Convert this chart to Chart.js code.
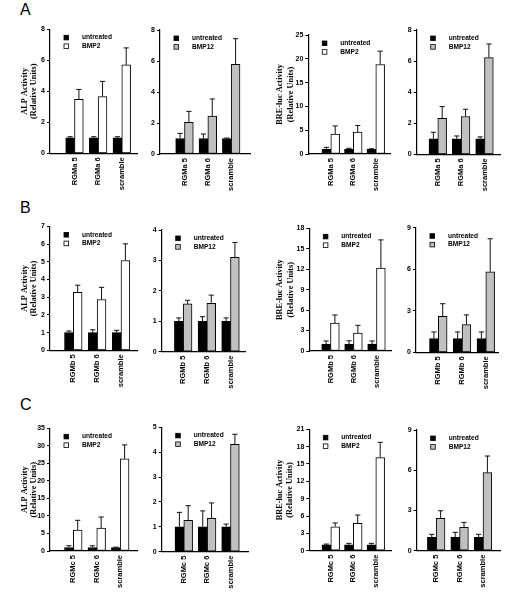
<!DOCTYPE html>
<html><head><meta charset="utf-8">
<script src="https://cdn.jsdelivr.net/npm/chart.js@4.4.1/dist/chart.umd.min.js"></script>
<style>
html,body{margin:0;padding:0;background:#fff;}
body{width:513px;height:605px;position:relative;overflow:hidden;}
canvas{position:absolute;}
.lab{position:absolute;font-family:"Liberation Sans",Arial,sans-serif;font-size:16px;line-height:1;color:#000;}
</style></head><body>
<div class="lab" style="left:20px;top:2px">A</div>
<div class="lab" style="left:20px;top:200px">B</div>
<div class="lab" style="left:20px;top:397px">C</div>
<script>
// ---- categories ----
const catsA = ['RGMa 5', 'RGMa 6', 'scramble'];
const catsB = ['RGMb 5', 'RGMb 6', 'scramble'];
const catsC = ['RGMc 5', 'RGMc 6', 'scramble'];
const seriesUntreated = 'untreated';
const seriesBMP2 = 'BMP2';
const seriesBMP12 = 'BMP12';
const titleALP = ['ALP Activity', '(Relative Units)'];
const titleBRE = ['BRE-luc Activity', '(Relative Units)'];

// ---- y tick labels ----
const a1YTicks = [0, 2, 4, 6, 8];
const a2YTicks = [0, 2, 4, 6, 8];
const a3YTicks = [0, 5, 10, 15, 20, 25];
const a4YTicks = [0, 2, 4, 6, 8];
const b1YTicks = [0, 1, 2, 3, 4, 5, 6, 7];
const b2YTicks = [0, 1, 2, 3, 4];
const b3YTicks = [0, 3, 6, 9, 12, 15, 18];
const b4YTicks = [0, 3, 6, 9];
const c1YTicks = [0, 5, 10, 15, 20, 25, 30, 35];
const c2YTicks = [0, 1, 2, 3, 4, 5];
const c3YTicks = [0, 3, 6, 9, 12, 15, 18, 21];
const c4YTicks = [0, 3, 6, 9];

// ---- series values (mean) and errors (SD, upward) ----
// A: RGMa
const a1Untreated = [1, 1, 1];          const a1UntreatedErr = [0.07, 0.07, 0.07];
const a1BMP2 = [3.48, 3.66, 5.7];        const a1BMP2Err = [0.64, 0.98, 1.1];
const a2Untreated = [1, 1, 1];          const a2UntreatedErr = [0.33, 0.29, 0.03];
const a2BMP12 = [2.04, 2.45, 5.78];      const a2BMP12Err = [0.71, 1.1, 1.66];
const a3Untreated = [1, 1, 1];          const a3UntreatedErr = [0.4, 0.2, 0.1];
const a3BMP2 = [4.2, 4.6, 18.8];         const a3BMP2Err = [1.7, 1.4, 2.8];
const a4Untreated = [1, 1, 1];          const a4UntreatedErr = [0.42, 0.18, 0.12];
const a4BMP12 = [2.32, 2.43, 6.22];      const a4BMP12Err = [0.75, 0.47, 0.88];
// B: RGMb
const b1Untreated = [1, 1, 1];          const b1UntreatedErr = [0.09, 0.16, 0.13];
const b1BMP2 = [3.28, 2.87, 5.08];       const b1BMP2Err = [0.4, 0.69, 0.94];
const b2Untreated = [1, 1, 1];          const b2UntreatedErr = [0.11, 0.15, 0.11];
const b2BMP12 = [1.57, 1.59, 3.1];       const b2BMP12Err = [0.12, 0.27, 0.49];
const b3Untreated = [1, 1, 1];          const b3UntreatedErr = [0.47, 0.5, 0.47];
const b3BMP2 = [4.1, 2.64, 12.18];       const b3BMP2Err = [1.18, 1.13, 4.12];
const b4Untreated = [1, 1, 1];          const b4UntreatedErr = [0.47, 0.47, 0.47];
const b4BMP12 = [2.6, 2.0, 5.82];        const b4BMP12Err = [0.91, 0.7, 2.38];
// C: RGMc
const c1Untreated = [1, 1, 1];          const c1UntreatedErr = [0.5, 0.5, 0.1];
const c1BMP2 = [6.0, 6.56, 26.26];       const c1BMP2Err = [2.75, 3.14, 4.0];
const c2Untreated = [1, 1, 1];          const c2UntreatedErr = [0.58, 0.64, 0.11];
const c2BMP12 = [1.26, 1.34, 4.32];      const c2BMP12Err = [0.59, 0.62, 0.4];
const c3Untreated = [1, 1, 1];          const c3UntreatedErr = [0.15, 0.27, 0.27];
const c3BMP2 = [4.15, 4.73, 16.1];       const c3BMP2Err = [0.65, 1.44, 2.65];
const c4Untreated = [1, 1, 1];          const c4UntreatedErr = [0.22, 0.37, 0.22];
const c4BMP12 = [2.41, 1.74, 5.82];      const c4BMP12Err = [0.57, 0.37, 1.24];

// ---- styles ----
const COL_UNTR = '#000000';
const COL_BMP2 = '#ffffff';
const COL_BMP12 = '#c0c0c0';
const TICK_FONT = {family: '"Liberation Sans", Arial, sans-serif', size: 7, weight: 'bold'};
const XTICK_FONT = {family: '"Liberation Sans", Arial, sans-serif', size: 7.5, weight: 'bold'};

// ---- panel layout (page pixels): plot box [left, top, right, bottom], first/last group centres ----
const panels = [
  {cats: catsA, u: a1Untreated, ue: a1UntreatedErr, t: a1BMP2, te: a1BMP2Err, tl: seriesBMP2, tc: COL_BMP2, yt: a1YTicks, title: titleALP, tx: 25, tlh: 8.5, box: [50, 29.3, 137, 153.3], c: [74.5, 121.8]},
  {cats: catsA, u: a2Untreated, ue: a2UntreatedErr, t: a2BMP12, te: a2BMP12Err, tl: seriesBMP12, tc: COL_BMP12, yt: a2YTicks, box: [160, 30, 250, 154], c: [184.5, 231.2]},
  {cats: catsA, u: a3Untreated, ue: a3UntreatedErr, t: a3BMP2, te: a3BMP2Err, tl: seriesBMP2, tc: COL_BMP2, yt: a3YTicks, title: titleBRE, tx: 280, tlh: 10.5, box: [308.3, 35, 390, 154], c: [330.8, 375.8]},
  {cats: catsA, u: a4Untreated, ue: a4UntreatedErr, t: a4BMP12, te: a4BMP12Err, tl: seriesBMP12, tc: COL_BMP12, yt: a4YTicks, box: [416.7, 30, 500, 154.3], c: [437.8, 484.5]},
  {cats: catsB, u: b1Untreated, ue: b1UntreatedErr, t: b1BMP2, te: b1BMP2Err, tl: seriesBMP2, tc: COL_BMP2, yt: b1YTicks, title: titleALP, tx: 25, tlh: 8.5, box: [50, 226.5, 137, 350.3], c: [73.3, 121]},
  {cats: catsB, u: b2Untreated, ue: b2UntreatedErr, t: b2BMP12, te: b2BMP12Err, tl: seriesBMP12, tc: COL_BMP12, yt: b2YTicks, box: [161.7, 230, 245, 351.7], c: [183.2, 230.5]},
  {cats: catsB, u: b3Untreated, ue: b3UntreatedErr, t: b3BMP2, te: b3BMP2Err, tl: seriesBMP2, tc: COL_BMP2, yt: b3YTicks, title: titleBRE, tx: 280, tlh: 10.5, box: [309.3, 228.3, 391.7, 351], c: [330.5, 376.5]},
  {cats: catsB, u: b4Untreated, ue: b4UntreatedErr, t: b4BMP12, te: b4BMP12Err, tl: seriesBMP12, tc: COL_BMP12, yt: b4YTicks, box: [416, 227.7, 498.3, 352.3], c: [438.3, 485.8]},
  {cats: catsC, u: c1Untreated, ue: c1UntreatedErr, t: c1BMP2, te: c1BMP2Err, tl: seriesBMP2, tc: COL_BMP2, yt: c1YTicks, title: titleALP, tx: 25, tlh: 8.5, box: [50, 428.3, 137, 551], c: [73.3, 120.2]},
  {cats: catsC, u: c2Untreated, ue: c2UntreatedErr, t: c2BMP12, te: c2BMP12Err, tl: seriesBMP12, tc: COL_BMP12, yt: c2YTicks, box: [161.7, 427.3, 248.3, 551.7], c: [183.8, 230.5]},
  {cats: catsC, u: c3Untreated, ue: c3UntreatedErr, t: c3BMP2, te: c3BMP2Err, tl: seriesBMP2, tc: COL_BMP2, yt: c3YTicks, title: titleBRE, tx: 279.5, tlh: 10.5, box: [309.3, 429.3, 391.7, 550.7], c: [330.8, 375.8]},
  {cats: catsC, u: c4Untreated, ue: c4UntreatedErr, t: c4BMP12, te: c4BMP12Err, tl: seriesBMP12, tc: COL_BMP12, yt: c4YTicks, box: [416.7, 430, 500, 550.7], c: [436.2, 483]}
];

// error bars drawn through the y scale
const errorBarsPlugin = {
  id: 'errorBars',
  afterDatasetsDraw(chart) {
    const ctx = chart.ctx, ys = chart.scales.y;
    chart.data.datasets.forEach((ds, di) => {
      const meta = chart.getDatasetMeta(di);
      meta.data.forEach((bar, i) => {
        const v = ds.data[i].y, e = ds.errors[i];
        const yTop = ys.getPixelForValue(v + e);
        ctx.save();
        ctx.strokeStyle = '#111';
        ctx.lineWidth = 1;
        ctx.beginPath();
        ctx.moveTo(bar.x, bar.y);
        ctx.lineTo(bar.x, yTop);
        ctx.moveTo(bar.x - 2.6, yTop);
        ctx.lineTo(bar.x + 2.6, yTop);
        ctx.stroke();
        ctx.restore();
      });
    });
  }
};

// legend inside plot area
const panelLegendPlugin = {
  id: 'panelLegend',
  afterDraw(chart) {
    const ctx = chart.ctx, area = chart.chartArea;
    chart.data.datasets.forEach((ds, i) => {
      const y = area.top + 8.3 + i * 8.6;
      const x = area.left + 14;
      ctx.save();
      ctx.fillStyle = ds.backgroundColor;
      ctx.fillRect(x, y - 2.3, 4.6, 4.6);
      ctx.strokeStyle = '#000';
      ctx.lineWidth = 0.8;
      ctx.strokeRect(x, y - 2.3, 4.6, 4.6);
      ctx.fillStyle = '#000';
      ctx.font = 'bold 6.6px "Liberation Sans", Arial, sans-serif';
      ctx.textBaseline = 'middle';
      ctx.textAlign = 'left';
      ctx.fillText(ds.label, area.left + 32, y);
      ctx.restore();
    });
  }
};

function makePanel(p) {
  const [L, T, R, B] = p.box;
  const cl = Math.floor(L - 50), ct = Math.floor(T - 25);
  const yW = L - cl, padTop = T - ct;
  const W = Math.ceil(R - cl + 6), H = Math.ceil(B - ct + 45);
  const padRight = W - (R - cl);
  const xH = H - (B - ct);
  const s = (p.c[1] - p.c[0]) / 2;
  const xmin = 1 - (p.c[0] - L) / s;
  const xmax = xmin + (R - L) / s;

  const cv = document.createElement('canvas');
  cv.width = W; cv.height = H;
  cv.style.left = cl + 'px'; cv.style.top = ct + 'px';
  cv.style.width = W + 'px'; cv.style.height = H + 'px';
  document.body.appendChild(cv);

  const yt = p.yt;
  const cats = p.cats;
  const titleSize = 8.3;
  const title = p.title ? {
    display: true, text: p.title, color: '#000',
    font: {family: '"Liberation Serif", "Times New Roman", serif', size: titleSize, weight: 'bold', lineHeight: p.tlh / titleSize},
    padding: {top: (p.tx - cl) - p.tlh / 2, bottom: 0}
  } : {display: false};

  new Chart(cv, {
    type: 'bar',
    data: {
      datasets: [
        {label: seriesUntreated, data: p.u.map((v, i) => ({x: i + 1, y: v})), errors: p.ue,
         backgroundColor: COL_UNTR, borderColor: '#000', borderWidth: 1, borderSkipped: false},
        {label: p.tl, data: p.t.map((v, i) => ({x: i + 1, y: v})), errors: p.te,
         backgroundColor: p.tc, borderColor: '#000', borderWidth: 1, borderSkipped: false}
      ]
    },
    options: {
      responsive: false, animation: false, events: [],
      barThickness: 8.8,
      layout: {padding: {left: 0, top: padTop, right: padRight, bottom: 0}},
      plugins: {legend: {display: false}, tooltip: {enabled: false}},
      scales: {
        x: {
          type: 'linear', min: xmin, max: xmax, offset: false,
          grid: {display: false, drawTicks: false},
          border: {display: true, color: '#000', width: 1.2},
          afterBuildTicks: sc => { sc.ticks = cats.map((c, i) => ({value: i + 1})); },
          afterFit: sc => { sc.height = xH; },
          ticks: {autoSkip: false, minRotation: 90, maxRotation: 90, padding: 4, color: '#000', font: XTICK_FONT,
                  callback: v => cats[v - 1]}
        },
        y: {
          min: yt[0], max: yt[yt.length - 1],
          afterBuildTicks: sc => { sc.ticks = yt.map(v => ({value: v})); },
          afterFit: sc => { sc.width = yW; },
          grid: {display: true, drawOnChartArea: false, drawTicks: true, tickLength: 3, color: '#000', lineWidth: 1},
          border: {display: true, color: '#000', width: 1.2},
          ticks: {padding: 2, color: '#000', font: TICK_FONT},
          title: title
        }
      }
    },
    plugins: [errorBarsPlugin, panelLegendPlugin]
  });
}

panels.forEach(makePanel);
</script>
</body></html>
